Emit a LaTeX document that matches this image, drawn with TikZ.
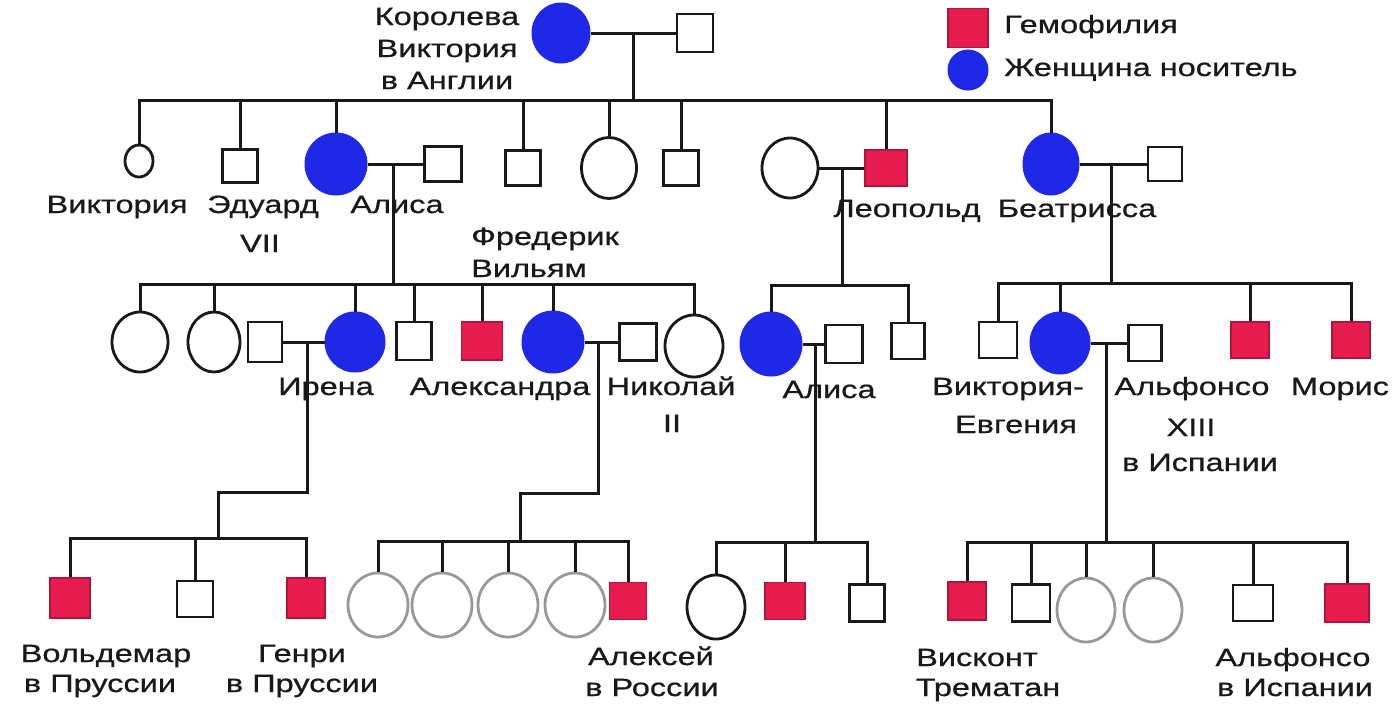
\documentclass[tikz,border=0pt]{standalone}
\usepackage{fontspec}
\setmainfont[FakeStretch=1.3,FakeBold=0.7]{Liberation Sans}
\usetikzlibrary{shapes.geometric}
\definecolor{carrier}{RGB}{30,40,230}
\definecolor{hemo}{RGB}{232,28,78}
\definecolor{ink}{RGB}{25,25,25}
\begin{document}
\begin{tikzpicture}[x=1pt,y=-1pt,
 ln/.style={line width=3pt, draw=ink},
 sz/.style 2 args={minimum width=#1pt, minimum height=#2pt},
 sq/.style={rectangle, draw=ink, line width=2.8pt, inner sep=0pt},
 hsq/.style={rectangle, draw=hemo!75!black, fill=hemo, line width=1.8pt, inner sep=0pt},
 oc/.style={ellipse, draw=ink, line width=2.8pt, inner sep=0pt},
 gc/.style={ellipse, draw=gray!80, line width=2.8pt, inner sep=0pt},
 cc/.style={ellipse, draw=carrier, fill=carrier, line width=1pt, inner sep=0pt},
 lab/.style={anchor=base, inner sep=0pt, font=\fontsize{25}{30}\selectfont, text=ink},
]
\useasboundingbox (0,0) rectangle (1400,721);

% ---------- Generation I ----------
\node[cc, sz={58}{60}] (qv) at (561,33) {};
\node[sq, sz={36}{38}] (qvh) at (695,33) {};
\draw[ln] (qv) -- (qvh);
\coordinate (m1) at (633,33);
\coordinate (j1) at (633,100);
\draw[ln] (m1) -- (j1);

% ---------- Generation II ----------
\node[oc, sz={28}{32}] (vi) at (139,161) {};
\node[sq, sz={35}{33}] (ed) at (240,166) {};
\node[cc, sz={62}{62}] (al) at (336,164) {};
\node[sq, sz={37}{35}] (fw) at (443,164) {};
\node[sq, sz={35}{35}] (s4) at (523,168) {};
\node[oc, sz={55}{61}] (c5) at (609,168) {};
\node[sq, sz={35}{35}] (s6) at (681,168) {};
\node[oc, sz={56}{60}] (lw) at (790,168) {};
\node[hsq, sz={42}{36}] (leo) at (886,168) {};
\node[cc, sz={56}{62}] (be) at (1051,164) {};
\node[sq, sz={34}{34}] (bh) at (1165,164) {};

\draw[ln] (vi.north) |- (j1) -| (be.north);
\foreach \n in {ed,al,s4,c5,s6,leo}{\draw[ln] (\n.north) -- (\n.north |- j1);}
\draw[ln] (al) -- (fw);
\draw[ln] (lw) -- (leo);
\draw[ln] (be) -- (bh);

\coordinate (m2) at (393,164); \coordinate (j2) at (393,284);
\coordinate (m4) at (842,168); \coordinate (j4) at (842,285);
\coordinate (m5) at (1111,164); \coordinate (j5) at (1111,283);
\draw[ln] (m2) -- (j2);
\draw[ln] (m4) -- (j4);
\draw[ln] (m5) -- (j5);

% ---------- Generation III ----------
\node[oc, sz={56}{60}] (a1) at (140,342) {};
\node[oc, sz={52}{60}] (a2) at (214,342) {};
\node[sq, sz={34}{40}] (ih) at (265,342) {};
\node[cc, sz={60}{60}] (ir) at (355,342) {};
\node[sq, sz={35}{38}] (a5) at (414,341) {};
\node[hsq, sz={41}{38}] (a6) at (482,341) {};
\node[cc, sz={62}{62}] (ax) at (553,342) {};
\node[sq, sz={37}{37}] (nk) at (638,342) {};
\node[oc, sz={58}{62}] (a9) at (694,346) {};
\draw[ln] (a1.north) |- (j2) -| (a9.north);
\foreach \n in {a2,ir,a5,a6,ax}{\draw[ln] (\n.north) -- (\n.north |- j2);}
\draw[ln] (ih) -- (ir);
\draw[ln] (ax) -- (nk);

\node[cc, sz={62}{64}] (la) at (771,344) {};
\node[sq, sz={37}{38}] (lh) at (844,344) {};
\node[sq, sz={33}{36}] (l3) at (908,341) {};
\draw[ln] (la.north) |- (j4) -| (l3.north);
\draw[ln] (la) -- (lh);

\node[sq, sz={38}{36}] (b1) at (998,340) {};
\node[cc, sz={60}{62}] (ve) at (1060,343) {};
\node[sq, sz={33}{36}] (vh) at (1145,343) {};
\node[hsq, sz={38}{36}] (b4) at (1250,340) {};
\node[hsq, sz={38}{36}] (b5) at (1351,340) {};
\draw[ln] (b1.north) |- (j5) -| (b5.north);
\foreach \n in {ve,b4}{\draw[ln] (\n.north) -- (\n.north |- j5);}
\draw[ln] (ve) -- (vh);

% ---------- Generation IV ----------
\coordinate (m6) at (307,342); \coordinate (k6) at (218,492); \coordinate (j6) at (218,538);
\draw[ln] (m6) |- (k6) -- (j6);
\node[hsq, sz={40}{40}] (wo) at (70,598) {};
\node[sq, sz={36}{36}] (w2) at (195,599) {};
\node[hsq, sz={38}{40}] (he) at (306,598) {};
\draw[ln] (wo.north) |- (j6) -| (he.north);
\draw[ln] (w2.north) -- (w2.north |- j6);

\coordinate (m7) at (598,342); \coordinate (k7) at (520,493); \coordinate (j7) at (520,541);
\draw[ln] (m7) |- (k7) -- (j7);
\node[gc, sz={60}{64}] (g1) at (378,605) {};
\node[gc, sz={60}{64}] (g2) at (442,605) {};
\node[gc, sz={60}{64}] (g3) at (508,605) {};
\node[gc, sz={60}{64}] (g4) at (575,605) {};
\node[hsq, sz={37}{37}] (ale) at (628,601) {};
\draw[ln] (g1.north) |- (j7) -| (ale.north);
\foreach \n in {g2,g3,g4}{\draw[ln] (\n.north) -- (\n.north |- j7);}

\coordinate (m8) at (815,344); \coordinate (j8) at (815,542);
\draw[ln] (m8) -- (j8);
\node[oc, sz={58}{64}] (c81) at (716,607) {};
\node[hsq, sz={40}{37}] (c82) at (785,601) {};
\node[sq, sz={35}{37}] (c83) at (867,603) {};
\draw[ln] (c81.north) |- (j8) -| (c83.north);
\draw[ln] (c82.north) -- (c82.north |- j8);

\coordinate (m9) at (1106,343); \coordinate (j9) at (1106,542);
\draw[ln] (m9) -- (j9);
\node[hsq, sz={38}{38}] (vt) at (967,601) {};
\node[sq, sz={38}{37}] (d2) at (1031,603) {};
\node[gc, sz={58}{64}] (d3) at (1086,610) {};
\node[gc, sz={58}{64}] (d4) at (1153,610) {};
\node[sq, sz={40}{36}] (d5) at (1253,603) {};
\node[hsq, sz={44}{38}] (af) at (1347,603) {};
\draw[ln] (vt.north) |- (j9) -| (af.north);
\foreach \n in {d2,d3,d4,d5}{\draw[ln] (\n.north) -- (\n.north |- j9);}

% ---------- Legend ----------
\node[hsq, sz={40}{39}] (lg1) at (968,28) {};
\node[cc, sz={40}{40}] (lg2) at (968,70) {};
\node[lab, anchor=base west] (lt1) at (1004,33) {Гемофилия};
\node[lab, anchor=base west] (lt2) at (1004,76) {Женщина носитель};

% ---------- Labels ----------
\node[lab] (t1) at (447,25) {Королева};
\node[lab] (t2) at (447,57) {Виктория};
\node[lab] (t3) at (447,89) {в Англии};

\node[lab] (t4) at (117,213) {Виктория};
\node[lab] (t5) at (263,213) {Эдуард};
\node[lab] (t6) at (260,252) {VII};
\node[lab] (t7) at (397,213) {Алиса};
\node[lab, anchor=base west] (t8) at (471,245) {Фредерик};
\node[lab, anchor=base west] (t9) at (471,277) {Вильям};
\node[lab] (t10) at (907,217) {Леопольд};
\node[lab] (t11) at (1077,217) {Беатрисса};

\node[lab] (t12) at (326,395) {Ирена};
\node[lab] (t13) at (500,395) {Александра};
\node[lab] (t14) at (671,395) {Николай};
\node[lab] (t15) at (672,432) {II};
\node[lab] (t16) at (829,398) {Алиса};
\node[lab] (t17) at (1008,395) {Виктория-};
\node[lab] (t18) at (1016,433) {Евгения};
\node[lab] (t19) at (1192,395) {Альфонсо};
\node[lab] (t20) at (1191,436) {XIII};
\node[lab] (t21) at (1200,471) {в Испании};
\node[lab] (t22) at (1340,395) {Морис};

\node[lab] (t23) at (106,662) {Вольдемар};
\node[lab] (t24) at (100,692) {в Пруссии};
\node[lab] (t25) at (302,662) {Генри};
\node[lab] (t26) at (302,692) {в Пруссии};
\node[lab] (t27) at (651,665) {Алексей};
\node[lab] (t28) at (652,696) {в России};
\node[lab] (t29) at (977,666) {Висконт};
\node[lab] (t30) at (988,696) {Трематан};
\node[lab] (t31) at (1293,666) {Альфонсо};
\node[lab] (t32) at (1295,696) {в Испании};
\end{tikzpicture}
\end{document}
